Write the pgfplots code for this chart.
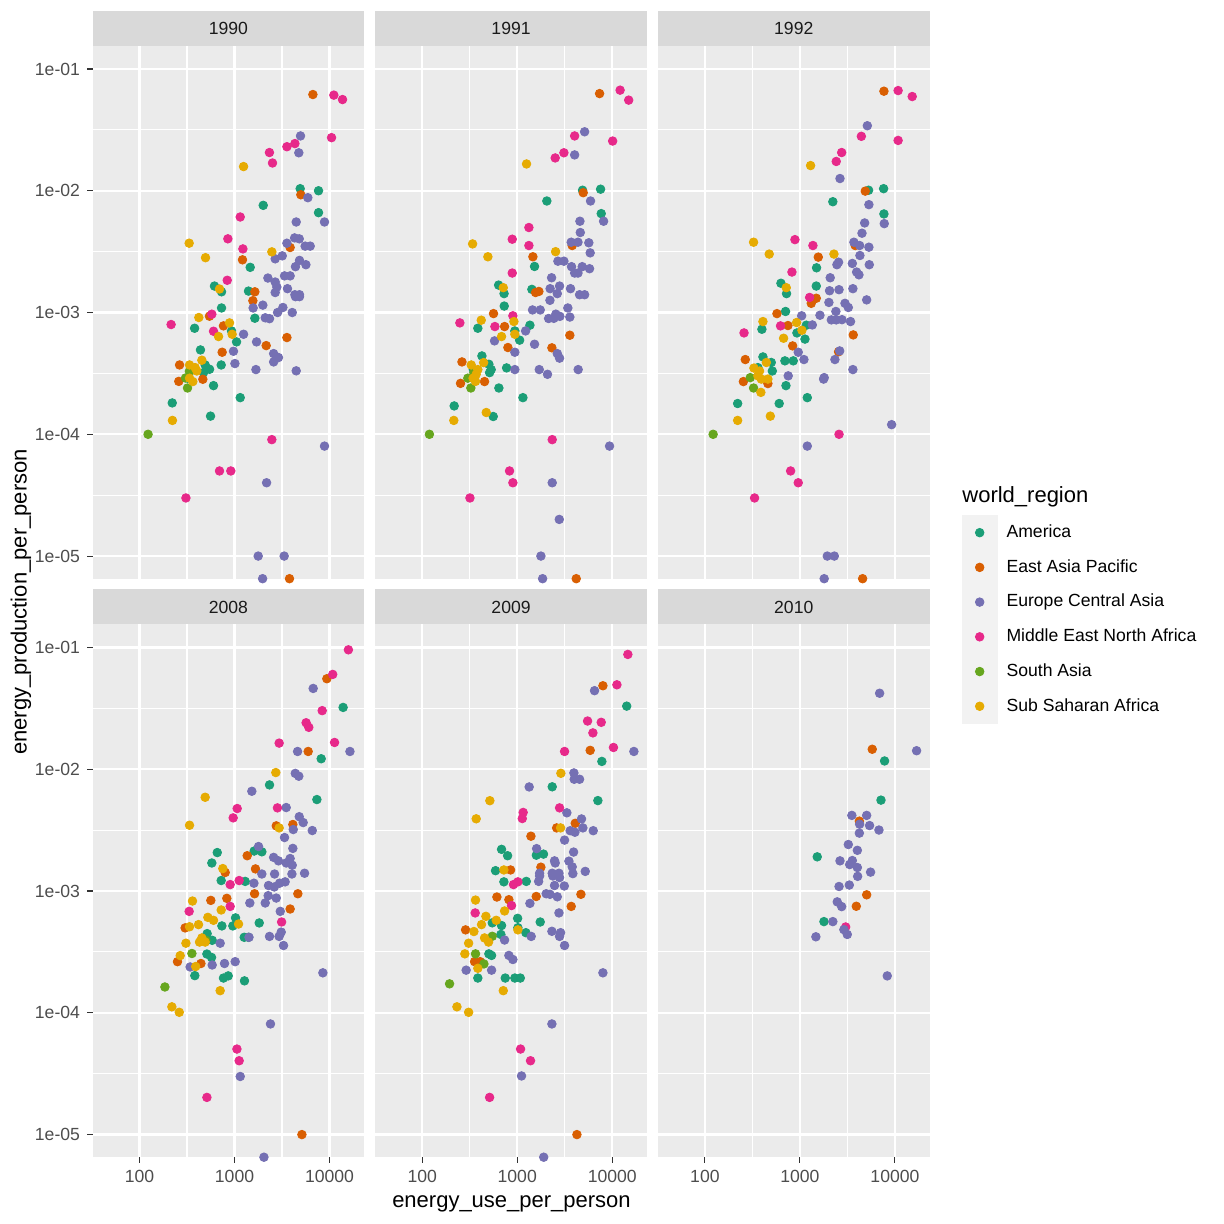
\documentclass[border=0pt]{standalone}
\usepackage{fontspec}
\setmainfont{Liberation Sans}
\usepackage{pgfplots}
\pgfplotsset{compat=1.18}
\definecolor{cAm}{HTML}{1B9E77}
\definecolor{cEA}{HTML}{D95F02}
\definecolor{cEC}{HTML}{7570B3}
\definecolor{cME}{HTML}{E7298A}
\definecolor{cSA}{HTML}{66A61E}
\definecolor{cSS}{HTML}{E6AB02}
\definecolor{bgpanel}{HTML}{EBEBEB}
\definecolor{stripbg}{HTML}{D9D9D9}
\definecolor{keybg}{HTML}{F2F2F2}
\definecolor{grey30}{HTML}{4D4D4D}
\definecolor{grey20}{HTML}{333333}
\definecolor{grey10}{HTML}{1A1A1A}
\tikzset{
 ptsAm/.style={only marks, mark=*, mark size=2.15pt, color=cAm, mark options={draw=none, fill=cAm}},
 ptsEA/.style={only marks, mark=*, mark size=2.15pt, color=cEA, mark options={draw=none, fill=cEA}},
 ptsEC/.style={only marks, mark=*, mark size=2.15pt, color=cEC, mark options={draw=none, fill=cEC}},
 ptsME/.style={only marks, mark=*, mark size=2.15pt, color=cME, mark options={draw=none, fill=cME}},
 ptsSA/.style={only marks, mark=*, mark size=2.15pt, color=cSA, mark options={draw=none, fill=cSA}},
 ptsSS/.style={only marks, mark=*, mark size=2.15pt, color=cSS, mark options={draw=none, fill=cSS}},
}
\newcommand{\panelbegin}[3]{\begin{loglogaxis}[scale only axis, width=135.85pt, height=266.35pt,
  xmin=32.0, xmax=23170, ymin=6.52e-6, ymax=0.1545,
  axis background/.style={fill=bgpanel}, axis line style={draw=none},
  grid=both, major grid style={draw=white, line width=1.1pt}, minor grid style={draw=white, line width=0.55pt},
  xtick={100,1000,10000}, minor xtick={316.23,3162.3},
  ytick={1e-5,1e-4,1e-3,1e-2,1e-1}, minor ytick={3.1623e-5,3.1623e-4,3.1623e-3,3.1623e-2},
  xtick pos=left, ytick pos=left,
  tick align=outside, major tick length=2.75pt, minor tick length=0pt,
  tick label style={font=\fontsize{8.8}{10}\selectfont, text=grey30},
  anchor=south west, at={(#1,#2)}, #3]}
\begin{document}
\begin{tikzpicture}
\path[use as bounding box] (0pt,0pt) rectangle (612pt,612pt);
\begin{scope}[x=0.5pt, y=0.5pt]
\foreach \L/\yr in {92.5/1990, 375.2/1991, 657.9/1992} {
  \fill[stripbg] (\L,1178) rectangle ({\L+271.7},1213);
  \node[font=\fontsize{8.8}{10}\selectfont, text=grey10] at ({\L+135.85},1195.5) {\yr};
}
\foreach \L/\yr in {92.5/2008, 375.2/2009, 657.9/2010} {
  \fill[stripbg] (\L,599.5) rectangle ({\L+271.7},634.5);
  \node[font=\fontsize{8.8}{10}\selectfont, text=grey10] at ({\L+135.85},617) {\yr};
}
\end{scope}

% ---------------- 1990
\panelbegin{46.25pt}{322.65pt}{xticklabels={}, xtick style={draw=none}, yticklabels={1e-05,1e-04,1e-03,1e-02,1e-01}, ytick style={draw=grey20, line width=0.55pt}}
\addplot[ptsAm] coordinates {(4910,0.0104)(7660,0.0100)(2005,0.00759)(7660,0.00661)(1462,0.00235)(615,0.00165)(730,0.00148)(1403,0.0015)(730,0.00109)(1637,0.000898)(380,0.000743)(930,0.000706)(1050,0.000574)(438,0.000493)(724,0.000371)(491,0.000371)(546,0.000342)(472,0.000321)(341,0.000331)(320,0.000289)(601,0.000251)(1148,0.0002)(221,0.000181)(559,0.000141)};
\addplot[ptsEA] coordinates {(6680,0.0617)(4990,0.00927)(3850,0.00342)(1213,0.00271)(1637,0.00148)(1560,0.00125)(545,0.000933)(765,0.000777)(2154,0.000535)(3560,0.000623)(741,0.000472)(264,0.000371)(259,0.000272)(464,0.000283)(3790,6.52e-6)};
\addplot[ptsEC] coordinates {(4950,0.0282)(4750,0.0205)(5910,0.00877)(4460,0.00554)(8850,0.00554)(4290,0.0041)(4800,0.00403)(3560,0.00371)(5540,0.00351)(6260,0.00351)(3180,0.00292)(2680,0.00276)(4830,0.00268)(5640,0.00247)(4380,0.00238)(3360,0.002)(3850,0.002)(2245,0.00192)(2680,0.00178)(2790,0.00162)(3610,0.00157)(2680,0.00146)(4320,0.0014)(4830,0.0014)(1570,0.00109)(1986,0.00115)(3230,0.0011)(2840,0.001)(4050,0.001)(4380,0.00135)(4830,0.00135)(2105,0.000905)(2335,0.00089)(1245,0.000663)(1706,0.000574)(975,0.000481)(2580,0.00046)(2900,0.000427)(2580,0.000393)(1010,0.000381)(1680,0.00034)(4460,0.000332)(8850,8.0e-5)(2175,4.0e-5)(1775,1e-5)(3330,1e-5)(1975,6.52e-6)};
\addplot[ptsME] coordinates {(11100,0.061)(13700,0.0561)(10500,0.0273)(4320,0.0244)(3560,0.023)(2330,0.0206)(2510,0.0169)(1148,0.00609)(851,0.00403)(1225,0.00333)(838,0.00184)(215,0.000797)(577,0.000969)(601,0.000702)(2470,9.04e-5)(695,5e-5)(914,5e-5)(308,3e-5)};
\addplot[ptsSA] coordinates {(335,0.00033)(305,0.00029)(320,0.00024)(123,1e-4)};
\addplot[ptsSS] coordinates {(1245,0.0158)(333,0.00371)(2470,0.00315)(495,0.00282)(695,0.00156)(421,0.00091)(886,0.000822)(944,0.000663)(679,0.000635)(336,0.000371)(385,0.000353)(453,0.000406)(401,0.000331)(336,0.000289)(364,0.000271)(222,0.00013)};
\end{loglogaxis}

% ---------------- 1991
\panelbegin{187.6pt}{322.65pt}{xticklabels={}, xtick style={draw=none}, yticklabels={}, ytick style={draw=none}}
\addplot[ptsAm] coordinates {(4870,0.0101)(7540,0.0103)(2050,0.00824)(7660,0.00649)(1521,0.00239)(637,0.00168)(1426,0.00155)(727,0.00143)(730,0.00113)(1360,0.000787)(385,0.000743)(944,0.000706)(1060,0.000593)(425,0.00044)(773,0.000351)(503,0.000376)(532,0.00034)(512,0.000321)(345,0.00034)(641,0.00024)(1148,0.0002)(217,0.000171)(559,0.00014)};
\addplot[ptsEA] coordinates {(7360,0.0628)(4950,0.00964)(3790,0.00355)(1462,0.00287)(1690,0.00149)(1560,0.00146)(563,0.00098)(736,0.000767)(798,0.000516)(2317,0.000513)(3580,0.000651)(262,0.000393)(253,0.000262)(453,0.000271)(4180,6.52e-6)};
\addplot[ptsEC] coordinates {(5120,0.0305)(4020,0.0197)(5910,0.00824)(8110,0.00562)(4570,0.00562)(4610,0.00454)(3700,0.00378)(4360,0.00378)(5670,0.00374)(5860,0.00309)(2680,0.00264)(3100,0.00264)(3730,0.00238)(4830,0.00238)(5770,0.00229)(4020,0.00211)(4360,0.00211)(2300,0.00193)(2220,0.00157)(2790,0.00165)(3640,0.00157)(2640,0.00143)(4530,0.0014)(5120,0.0014)(1449,0.00105)(1746,0.00105)(2210,0.00126)(2140,0.000893)(2430,0.000896)(2550,0.00097)(2810,0.00093)(3410,0.00109)(3580,0.000918)(1225,0.000706)(577,0.000585)(1521,0.000549)(944,0.000472)(2640,0.00046)(2790,0.000422)(944,0.00034)(1706,0.00034)(2083,0.000311)(4380,0.00034)(9370,8e-5)(2335,4e-5)(2770,2e-5)(1775,1e-5)(1850,6.52e-6)};
\addplot[ptsME] coordinates {(12100,0.067)(14900,0.0555)(4020,0.0282)(10100,0.0256)(3100,0.0205)(2510,0.0186)(1327,0.00499)(886,0.004)(1327,0.00355)(886,0.00211)(900,0.00094)(249,0.000822)(582,0.000767)(2335,9.04e-5)(830,5e-5)(900,4e-5)(318,3e-5)};
\addplot[ptsSA] coordinates {(350,0.00032)(302,0.000289)(325,0.00024)(119,1e-4)};
\addplot[ptsSS] coordinates {(1253,0.0166)(339,0.00366)(2535,0.00316)(491,0.00287)(713,0.0016)(418,0.000865)(923,0.000843)(944,0.000663)(684,0.000635)(328,0.000371)(385,0.00034)(370,0.000311)(443,0.000388)(343,0.000289)(364,0.000272)(472,0.000151)(215,0.00013)};
\end{loglogaxis}

% ---------------- 1992
\panelbegin{328.95pt}{322.65pt}{xticklabels={}, xtick style={draw=none}, yticklabels={}, ytick style={draw=none}}
\addplot[ptsAm] coordinates {(5280,0.0101)(7600,0.0104)(2220,0.00813)(7660,0.00645)(1496,0.00233)(631,0.00174)(1486,0.00165)(723,0.00143)(706,0.00102)(398,0.000729)(1167,0.000787)(930,0.00068)(1130,0.000605)(695,0.000401)(851,0.000401)(408,0.000432)(499,0.000389)(512,0.000331)(361,0.000353)(713,0.000251)(221,0.000179)(605,0.000179)(1195,0.0002)};
\addplot[ptsEA] coordinates {(7660,0.0657)(4870,0.00993)(3820,0.00355)(1560,0.00285)(1486,0.00131)(1315,0.00119)(573,0.00098)(748,0.000782)(3640,0.000655)(838,0.000532)(2550,0.000476)(266,0.000411)(254,0.000271)(460,0.000261)(4570,6.52e-6)};
\addplot[ptsEC] coordinates {(5120,0.0342)(2640,0.0126)(5320,0.00769)(7720,0.00537)(4800,0.00544)(4500,0.00448)(3700,0.00378)(4250,0.00355)(5320,0.00344)(4280,0.00294)(2550,0.00259)(2450,0.00247)(3560,0.00253)(5370,0.00247)(3950,0.00215)(4180,0.00204)(2083,0.00193)(2050,0.00151)(2580,0.00154)(3610,0.00157)(2018,0.00121)(2980,0.00119)(3230,0.0011)(5040,0.00127)(2390,0.00102)(1043,0.00094)(1625,0.00095)(2140,0.00087)(2410,0.00087)(2770,0.000874)(3410,0.000843)(1350,0.000791)(960,0.000472)(1102,0.000411)(2620,0.000484)(2335,0.000411)(3610,0.00034)(753,0.000302)(1775,0.000284)(1800,0.000292)(9230,0.00012)(1195,8e-5)(1940,1e-5)(2300,1e-5)(1800,6.52e-6)};
\addplot[ptsME] coordinates {(10800,0.0665)(15200,0.0594)(4430,0.028)(10800,0.0259)(2750,0.0206)(2410,0.0174)(886,0.00397)(1370,0.00355)(824,0.00215)(1265,0.00133)(258,0.00068)(625,0.000777)(2580,1e-4)(798,5e-5)(960,4e-5)(333,3e-5)};
\addplot[ptsSA] coordinates {(300,0.000292)(325,0.00024)(122,1e-4)};
\addplot[ptsSS] coordinates {(1295,0.0161)(325,0.00378)(475,0.00302)(2280,0.00302)(718,0.0016)(408,0.000843)(923,0.000828)(1050,0.000715)(673,0.000615)(328,0.00035)(376,0.000331)(443,0.000389)(361,0.000302)(392,0.000284)(460,0.000284)(388,0.000221)(221,0.00013)(488,0.000141)};
\end{loglogaxis}

% ---------------- 2008
\panelbegin{46.25pt}{33.4pt}{xticklabels={100,1000,10000}, xtick style={draw=grey20, line width=0.55pt}, yticklabels={1e-05,1e-04,1e-03,1e-02,1e-01}, ytick style={draw=grey20, line width=0.55pt}}
\addplot[ptsAm] coordinates {(13900,0.0322)(8170,0.0122)(2335,0.00744)(7360,0.00564)(658,0.00207)(1610,0.00213)(1940,0.0021)(577,0.0017)(724,0.00122)(1295,0.0012)(1820,0.000547)(1025,0.000602)(736,0.000517)(960,0.000517)(515,0.000447)(582,0.000394)(1265,0.000417)(1403,0.000417)(512,0.000304)(573,0.000285)(382,0.000202)(765,0.000193)(858,0.000201)(1273,0.000183)};
\addplot[ptsEA] coordinates {(9370,0.0554)(5960,0.014)(2750,0.00343)(4110,0.00352)(1360,0.00195)(1662,0.00152)(798,0.00142)(1625,0.00095)(4640,0.00095)(3850,0.000712)(563,0.000838)(830,0.000871)(302,0.000498)(251,0.000263)(443,0.000254)(5120,1e-5)};
\addplot[ptsEC] coordinates {(6730,0.0461)(4610,0.014)(16400,0.014)(4360,0.00925)(4750,0.00877)(1521,0.0066)(3500,0.00485)(4800,0.00408)(5280,0.00365)(6580,0.00314)(4150,0.0032)(3360,0.00275)(4110,0.00224)(1790,0.00232)(2580,0.00189)(2900,0.00177)(3500,0.0017)(3850,0.00185)(4050,0.00163)(1940,0.00138)(2640,0.00138)(4020,0.00138)(5460,0.0014)(1600,0.00116)(2280,0.00111)(2620,0.00108)(2980,0.00116)(3410,0.00119)(2260,0.000916)(2750,0.000876)(2105,0.000798)(1449,0.000798)(3030,0.000681)(2335,0.000424)(2950,0.000424)(3100,0.00046)(3280,0.000357)(1420,0.000417)(706,0.000373)(341,0.000238)(582,0.000247)(785,0.000254)(1016,0.000263)(8510,0.000213)(2390,8.1e-5)(1148,3e-5)(2040,6.52e-6)};
\addplot[ptsME] coordinates {(15800,0.0957)(10800,0.0601)(8370,0.0303)(5670,0.0241)(6050,0.0221)(2950,0.0164)(11300,0.0166)(1067,0.00476)(968,0.00399)(2830,0.00482)(900,0.00113)(1119,0.00122)(900,0.000748)(333,0.000681)(3130,0.000557)(1060,5.04e-5)(1119,4.04e-5)(512,2.02e-5)};
\addplot[ptsSA] coordinates {(499,0.000394)(356,0.000307)(185,0.000163)};
\addplot[ptsSS] coordinates {(2720,0.0094)(491,0.00589)(336,0.00347)(2950,0.0033)(753,0.00153)(361,0.000828)(724,0.000699)(524,0.000608)(601,0.000575)(1102,0.000536)(418,0.00053)(336,0.000509)(453,0.000412)(428,0.000381)(491,0.000381)(308,0.000373)(268,0.000295)(390,0.00024)(706,0.000152)(219,0.000112)(262,0.000101)};
\end{loglogaxis}

% ---------------- 2009
\panelbegin{187.6pt}{33.4pt}{xticklabels={100,1000,10000}, xtick style={draw=grey20, line width=0.55pt}, yticklabels={}, ytick style={draw=none}}
\addplot[ptsAm] coordinates {(14200,0.033)(7780,0.0116)(2335,0.00718)(7060,0.00553)(684,0.0022)(792,0.00195)(1590,0.00197)(1890,0.00201)(591,0.00147)(724,0.00119)(1245,0.0012)(1010,0.000597)(1746,0.000557)(546,0.000548)(684,0.000521)(1016,0.0005)(1233,0.000455)(673,0.00044)(503,0.000305)(537,0.000296)(385,0.000193)(748,0.000193)(944,0.000193)(1077,0.000193)};
\addplot[ptsEA] coordinates {(7980,0.0485)(5860,0.0143)(4080,0.0036)(2600,0.0033)(1394,0.00282)(851,0.00149)(1775,0.00157)(611,0.000893)(817,0.000849)(1585,0.000902)(4680,0.00094)(3700,0.000748)(286,0.00048)(356,0.000263)(408,0.000263)(4250,1e-5)};
\addplot[ptsEC] coordinates {(6510,0.0442)(16900,0.014)(3950,0.00933)(3980,0.00828)(4530,0.00828)(1336,0.00716)(3330,0.00439)(4750,0.00391)(4910,0.0033)(6310,0.00313)(3610,0.00313)(4050,0.00304)(3150,0.00262)(1600,0.00223)(3920,0.00209)(2470,0.00177)(2510,0.0017)(3500,0.00176)(3790,0.00158)(5200,0.00145)(1720,0.0014)(2335,0.0014)(2750,0.0014)(3850,0.00139)(1680,0.0012)(1720,0.00133)(2370,0.00133)(2790,0.00129)(2470,0.00111)(3130,0.0011)(2018,0.00095)(2210,0.00094)(2640,0.000897)(1360,0.000792)(2750,0.000661)(2317,0.000467)(2860,0.000455)(2790,0.000424)(1403,0.000424)(3150,0.000357)(736,0.000396)(817,0.000296)(900,0.000274)(290,0.000224)(537,0.000224)(7980,0.000213)(2317,8.1e-5)(1110,3.03e-5)(1900,6.52e-6)};
\addplot[ptsME] coordinates {(14600,0.0877)(11200,0.0494)(5500,0.0249)(7660,0.0243)(6260,0.0199)(3150,0.014)(10300,0.0151)(2790,0.00482)(1155,0.00442)(1130,0.00394)(914,0.00113)(1016,0.00119)(871,0.00076)(361,0.000661)(1084,5.04e-5)(1380,4.04e-5)(512,2.02e-5)};
\addplot[ptsSA] coordinates {(546,0.000425)(364,0.000305)(446,0.000252)(194,0.000173)};
\addplot[ptsSS] coordinates {(2880,0.00927)(515,0.00552)(370,0.00392)(2860,0.0033)(724,0.00149)(364,0.000843)(736,0.000686)(468,0.00062)(601,0.000575)(421,0.00053)(1016,0.00048)(350,0.000465)(453,0.000412)(499,0.000381)(308,0.000373)(281,0.000305)(385,0.000232)(713,0.000152)(232,0.000112)(308,0.000101)};
\end{loglogaxis}

% ---------------- 2010
\panelbegin{328.95pt}{33.4pt}{xticklabels={100,1000,10000}, xtick style={draw=grey20, line width=0.55pt}, yticklabels={}, ytick style={draw=none}}
\addplot[ptsAm] coordinates {(7780,0.0117)(7130,0.00558)(1521,0.00191)(1790,0.000561)};
\addplot[ptsEA] coordinates {(5770,0.0146)(4220,0.00375)(5040,0.000931)(3920,0.00075)};
\addplot[ptsME] coordinates {(3030,0.000507)};
\addplot[ptsEC] coordinates {(6900,0.0421)(16900,0.0142)(3520,0.00418)(5040,0.00418)(4250,0.00354)(5410,0.00345)(6790,0.00317)(4220,0.00299)(3230,0.00241)(4020,0.00216)(2640,0.00177)(3560,0.00178)(3340,0.00165)(4020,0.00156)(5540,0.00143)(4050,0.00132)(2580,0.00109)(3310,0.00112)(2470,0.000815)(2750,0.000745)(2220,0.000561)(2900,0.000482)(3150,0.00044)(1472,0.000421)(8300,0.000201)};
\end{loglogaxis}

% ---------------- legend
\begin{axis}[at={(481pt,354.5pt)}, anchor=north west, hide axis, scale only axis,
  width=10pt, height=10pt, xmin=0, xmax=1, ymin=0, ymax=1,
  legend style={at={(0,1)}, anchor=north west, draw=none, fill=none,
    inner sep=0pt, outer sep=0pt, row sep=-0.32pt, column sep=4.6pt,
    font=\fontsize{8.8}{10}\selectfont, nodes={inner sep=0pt}},
  legend cell align=left,
  legend image code/.code={\fill[keybg] (0pt,-8.64pt) rectangle (17.28pt,8.64pt);
    \fill[#1] (8.64pt,0pt) circle (2.15pt);}]
\addlegendimage{cAm}\addlegendentry{America}
\addlegendimage{cEA}\addlegendentry{East Asia Pacific}
\addlegendimage{cEC}\addlegendentry{Europe Central Asia}
\addlegendimage{cME}\addlegendentry{Middle East North Africa}
\addlegendimage{cSA}\addlegendentry{South Asia}
\addlegendimage{cSS}\addlegendentry{Sub Saharan Africa}
\end{axis}

\node[anchor=west, inner sep=0pt, font=\fontsize{11}{13}\selectfont] at (481pt,363.5pt) {world\_region};
\node[font=\fontsize{11}{13}\selectfont] at (255.75pt,10pt) {energy\_use\_per\_person};
\node[font=\fontsize{11}{13}\selectfont, rotate=90] at (10.5pt,311pt) {energy\_production\_per\_person};
\end{tikzpicture}
\end{document}
